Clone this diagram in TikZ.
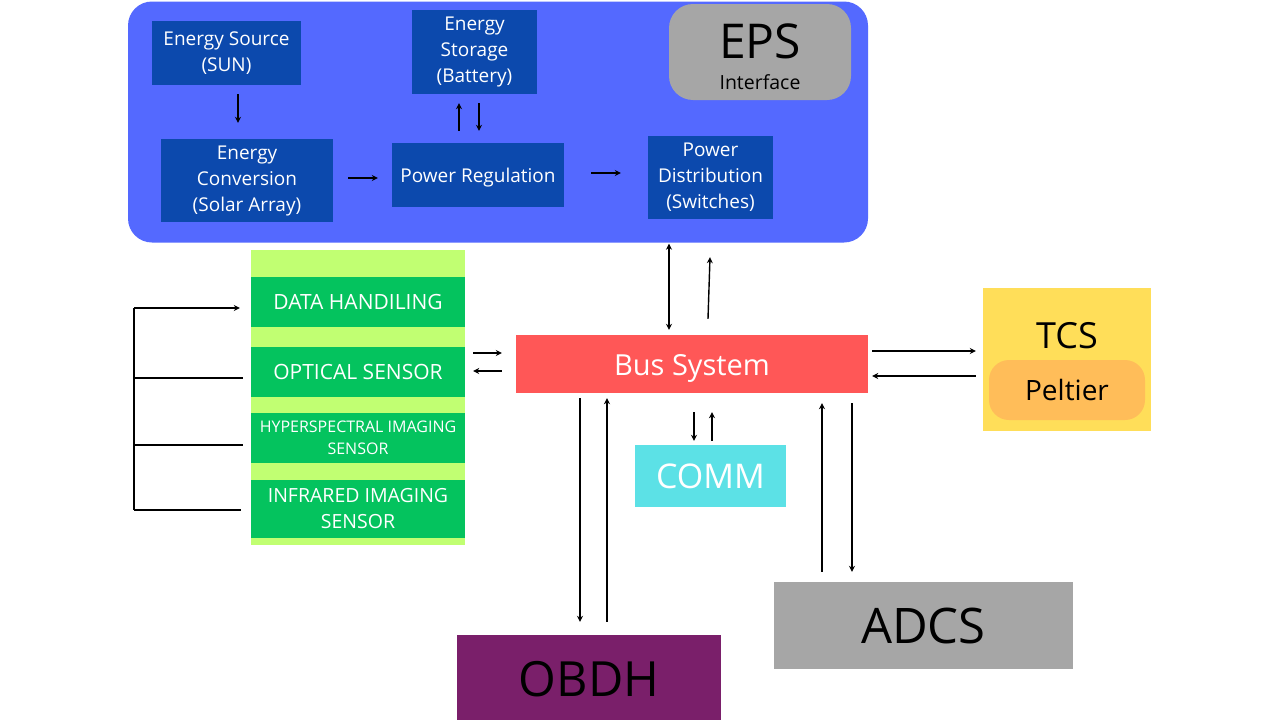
\documentclass[tikz,border=0pt]{standalone}
\usepackage{fontspec}
\setmainfont{Open Sans}
\usetikzlibrary{arrows.meta,calc}
\definecolor{epsblue}{HTML}{5469FF}
\definecolor{epsdark}{HTML}{0C49AD}
\definecolor{ifgray}{HTML}{A6A6A6}
\definecolor{lgreen}{HTML}{C1FF72}
\definecolor{dgreen}{HTML}{04C35E}
\definecolor{busred}{HTML}{FF5757}
\definecolor{commcyan}{HTML}{5CE1E6}
\definecolor{tcsyellow}{HTML}{FFDE59}
\definecolor{peltorange}{HTML}{FFBD59}
\definecolor{obdhpurple}{HTML}{7A1F6A}
\begin{document}
\begin{tikzpicture}[x=1pt,y=-1pt,
  box/.style={fill=epsdark, text=white, align=center, inner sep=0pt, font=\fontsize{19}{26}\selectfont},
  gstripe/.style={fill=dgreen, text=white, align=center, inner sep=0pt, minimum width=214pt},
  arr/.style={-{Stealth[length=6pt,width=6pt]}, line width=1.4pt},
  darr/.style={{Stealth[length=6pt,width=6pt]}-{Stealth[length=6pt,width=6pt]}, line width=1.4pt},
  ln/.style={line width=1.4pt}]
\useasboundingbox (0,0) rectangle (1280,720);
\fill[white] (0,0) rectangle (1280,720);

% EPS panel
\node[fill=epsblue, rounded corners=24pt, minimum width=740pt, minimum height=241pt, inner sep=0pt] (eps) at (498,122) {};
\node[fill=ifgray, rounded corners=24pt, minimum width=182pt, minimum height=96pt, inner sep=0pt] (epsif) at (760,52) {};
\node[font=\fontsize{48}{48}\selectfont, inner sep=0pt] (epst) at (760,41) {EPS};
\node[font=\fontsize{19.5}{19.5}\selectfont, inner sep=0pt] (epsi) at (760,82) {Interface};

\node[box, minimum width=149pt, minimum height=64pt] (src) at (226.5,53) {Energy Source\\(SUN)};
\node[box, minimum width=125pt, minimum height=84pt] (stor) at (474.5,52) {Energy\\Storage\\(Battery)};
\node[box, minimum width=172pt, minimum height=83pt] (conv) at (247,180.5) {Energy\\Conversion\\(Solar Array)};
\node[box, minimum width=172pt, minimum height=64pt] (reg) at (478,175) {\raisebox{-7pt}[0pt][0pt]{Power Regulation}};
\node[box, minimum width=125pt, minimum height=83pt] (dist) at (710.5,177.5) {Power\\Distribution\\(Switches)};

\draw[arr] ($(src.south)+(11.5,9)$) -- ($(conv.north)+(-9,-16)$);
\draw[arr] ($(conv.east)+(15,-2.5)$) -- ($(reg.west)+(-14,3)$);
\draw[arr] ($(reg.north)+(-19,-12)$) -- ($(stor.south)+(-15.5,9)$);
\draw[arr] ($(stor.south)+(4.5,9)$) -- ($(reg.north)+(1,-12)$);
\draw[arr] ($(reg.east)+(27,-2)$) -- ($(dist.west)+(-27,-4.5)$);

% Payload stack
\node[fill=lgreen, minimum width=214pt, minimum height=295pt, inner sep=0pt] (pay) at (358,397.5) {};
\node[gstripe, minimum height=50pt, font=\fontsize{21}{21}\selectfont] (dh) at (358,302) {DATA HANDILING};
\node[gstripe, minimum height=50pt, font=\fontsize{21}{21}\selectfont] (opt) at (358,372) {OPTICAL SENSOR};
\node[gstripe, minimum height=50pt, font=\fontsize{16}{22}\selectfont] (hyp) at (358,438) {HYPERSPECTRAL IMAGING\\SENSOR};
\node[gstripe, minimum height=58pt, font=\fontsize{19.5}{26}\selectfont] (ir) at (358,509) {INFRARED IMAGING\\SENSOR};

\coordinate (lt) at (134,308);
\coordinate (lb) at (134,510);
\draw[ln] (lt) -- (lb);
\draw[arr] (lt) -- ($(dh.west|-lt)+(-11,0)$);
\draw[ln] ($(opt.west)+(-117,6)$) -- ($(opt.west)+(-8,6)$);
\draw[ln] ($(hyp.west)+(-117,7)$) -- ($(hyp.west)+(-8,7)$);
\draw[ln] (lb) -- ($(ir.west|-lb)+(-10,0)$);

% Bus system
\node[fill=busred, text=white, minimum width=352pt, minimum height=58pt, inner sep=0pt, font=\fontsize{29}{29}\selectfont] (bus) at (692,364) {\raisebox{-11pt}[0pt][0pt]{Bus System}};

\draw[arr] ($(pay.east)+(8,-44.5)$) -- ($(bus.west)+(-14,-11)$);
\draw[arr] ($(bus.west)+(-14,7)$) -- ($(pay.east)+(8,-26.5)$);

\draw[darr] ($(eps.south)+(171,1)$) -- ($(bus.north)+(-23,-5)$);
\draw[arr] ($(bus.north)+(16,-16)$) -- ($(dist.south)+(-0.5,38)$);

% TCS
\node[fill=tcsyellow, minimum width=168pt, minimum height=143pt, inner sep=0pt] (tcs) at (1067,359.5) {};
\node[font=\fontsize{36}{36}\selectfont, inner sep=0pt] (tcst) at (1067,336) {TCS};
\node[fill=peltorange, rounded corners=20pt, minimum width=156pt, minimum height=60pt, inner sep=0pt, font=\fontsize{28}{28}\selectfont] (pelt) at (1067,390) {Peltier};
\draw[arr] ($(bus.east)+(4,-13)$) -- ($(tcs.west)+(-7,-8.5)$);
\draw[arr] ($(tcs.west)+(-7,16.5)$) -- ($(bus.east)+(4,12)$);

% COMM
\node[fill=commcyan, text=white, minimum width=151pt, minimum height=62pt, inner sep=0pt, font=\fontsize{34}{34}\selectfont] (comm) at (710.5,476) {COMM};
\draw[arr] ($(bus.south)+(2,19)$) -- ($(comm.north)+(-16.5,-4)$);
\draw[arr] ($(comm.north)+(1.5,-4)$) -- ($(bus.south)+(20,19)$);

% OBDH
\node[fill=obdhpurple, minimum width=264pt, minimum height=86pt, inner sep=0pt] (obdh) at (589,678) {};
\node[font=\fontsize{48.5}{48.5}\selectfont, inner sep=0pt] (obdht) at (589,679) {OBDH};
\draw[arr] ($(bus.south)+(-112,5)$) -- ($(obdh.north)+(-9,-13)$);
\draw[arr] ($(obdh.north)+(18,-13)$) -- ($(bus.south)+(-85,5)$);

% ADCS
\node[fill=ifgray, minimum width=299pt, minimum height=87pt, inner sep=0pt, font=\fontsize{49}{49}\selectfont] (adcs) at (923.5,625.5) {ADCS};
\draw[arr] ($(adcs.north)+(-101.5,-10)$) -- ($(bus.south)+(130,10)$);
\draw[arr] ($(bus.south)+(160,10)$) -- ($(adcs.north)+(-71.5,-10)$);
\end{tikzpicture}
\end{document}
